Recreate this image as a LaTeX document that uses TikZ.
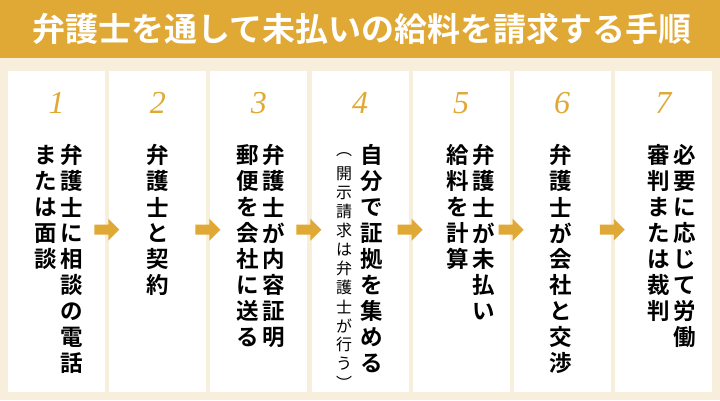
\documentclass[tikz,border=0pt]{standalone}
\usepackage{fontspec}
\setmainfont{Liberation Serif}
\newfontfamily\jp{Noto Sans CJK JP}[BoldFont={* Bold}]
\usetikzlibrary{positioning, calc}
\definecolor{gold}{HTML}{E0A834}
\definecolor{cream}{HTML}{F8EEDC}
% vertical stacking of characters
\newcommand\vpitch{26pt}
\def\vtx#1{\ifx\relax#1\else\vbox to \vpitch{\vss\hbox to 1.2em{\hss#1\hss}\vss}\expandafter\vtx\fi}
\newcommand\vt[1]{\vbox{\offinterlineskip\vtx#1\relax}}
\tikzset{
  step box/.style={fill=white, draw=none, minimum width=97pt, minimum height=321pt, anchor=north west},
  num/.style={text=gold, font=\fontsize{32}{32}\selectfont\itshape},
  line/.style={anchor=north, inner sep=0pt, font=\jp\bfseries\fontsize{22.5}{22.5}\selectfont},
  note/.style={anchor=north, inner sep=0pt, font=\jp\fontsize{16}{16}\selectfont},
  go/.style={fill=gold}
}
\begin{document}
\begin{tikzpicture}[x=1pt,y=-1pt]
  \fill[cream] (0,0) rectangle (720,400);
  \fill[gold] (0,0) rectangle (720,58);
  \node[text=white, font=\jp\bfseries\fontsize{33}{33}\selectfont] (title) at (362,29) {弁護士を通して未払いの給料を請求する手順};

  \foreach \i in {1,...,7}
    \node[step box] (box\i) at ({8+(\i-1)*101.1},71) {};
  \foreach \i in {1,...,7}
    \node[num] (num\i) at ([yshift=-32pt]box\i.north) {\i};
  \foreach \i [count=\j from 2] in {1,...,6}{
    \coordinate (arrow\i) at ($(box\i.east)!0.5!(box\j.west)+(0,-2)$);
    \fill[go] ($(arrow\i)+(-13,-5)$) -- ++(14,0) -- ++(0,-6) -- ++(11,11)
      -- ++(-11,11) -- ++(0,-6) -- ++(-14,0) -- cycle;
  }

  % step texts
  \node[line] (t1a) at (72,142) {\vt{弁護士に相談の電話}};
  \node[line] (t1b) at (46,142) {\vt{または面談}};
  \node[line] (t2a) at (158,142) {\vt{弁護士と契約}};
  \node[line] (t3a) at (274,142) {\vt{弁護士が内容証明}};
  \node[line] (t3b) at (248,142) {\vt{郵便を会社に送る}};
  \node[line] (t4a) at (372,142) {\vt{自分で証拠を集める}};
  \node[note] (t4b) at (344,145) {\renewcommand\vpitch{19pt}\vt{︵開示請求は弁護士が行う︶}};
  \node[line] (t5a) at (484,142) {\vt{弁護士が未払い}};
  \node[line] (t5b) at (458,142) {\vt{給料を計算}};
  \node[line] (t6a) at (561,142) {\vt{弁護士が会社と交渉}};
  \node[line] (t7a) at (685,142) {\vt{必要に応じて労働}};
  \node[line] (t7b) at (659,142) {\vt{審判または裁判}};
\end{tikzpicture}
\end{document}
